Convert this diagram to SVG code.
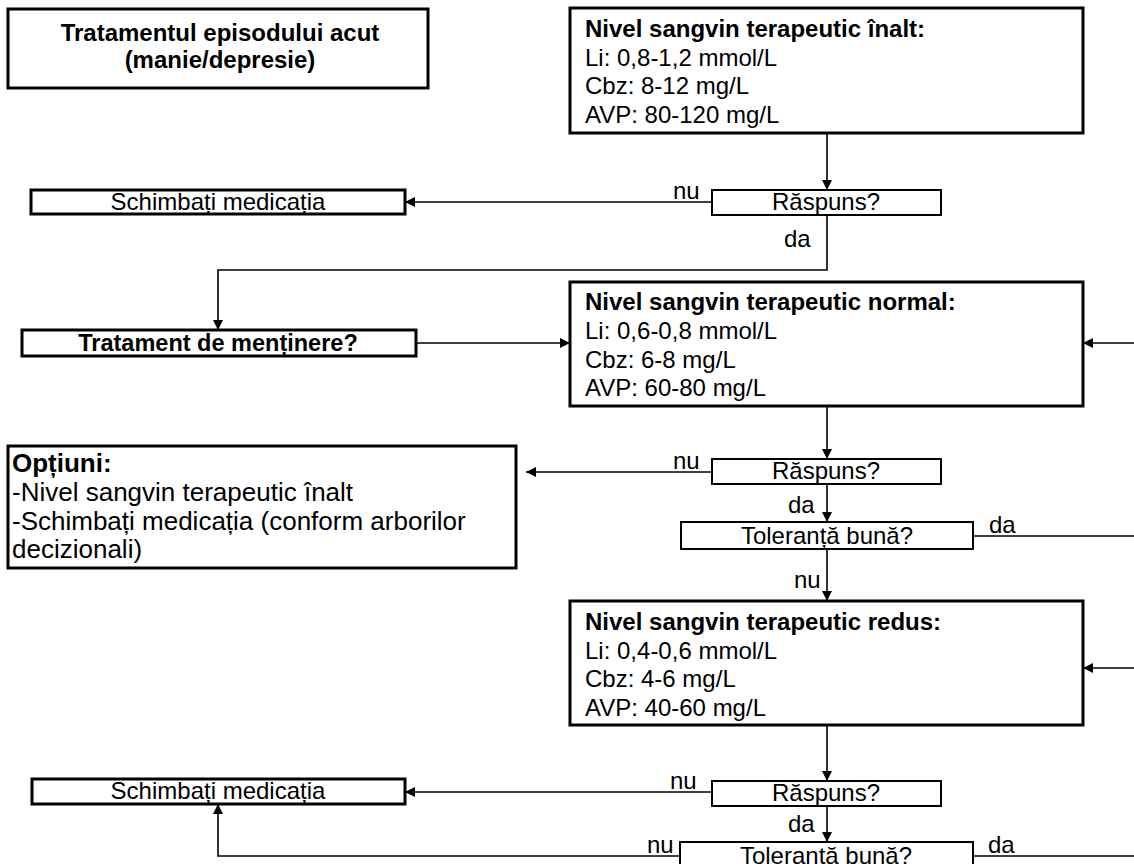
<svg xmlns="http://www.w3.org/2000/svg" width="1134" height="864" viewBox="0 0 1134 864">
<defs>
<marker id="ah" viewBox="0 0 10 10" refX="10" refY="5" markerWidth="10" markerHeight="10" markerUnits="userSpaceOnUse" orient="auto">
<path d="M0,0 L10,5 L0,10 z" fill="#000"/>
</marker>
<style>
.bx{fill:#fff;stroke:#000;stroke-width:3}
.sb{fill:#fff;stroke:#000;stroke-width:2}
.ln{fill:none;stroke:#000;stroke-width:1.6}
.ar{fill:none;stroke:#000;stroke-width:1.6;marker-end:url(#ah)}
text{font-family:"Liberation Sans",Arial,sans-serif;font-size:24px;fill:#000}
.b{font-weight:bold}
.c{text-anchor:middle}
.o{font-size:26px}
</style>
</defs>
<g id="connectors">
<path class="ar" d="M827,133 V190"/>
<path class="ar" d="M712,202 H405"/>
<path class="ar" d="M827,215 V270 H218 V330"/>
<path class="ar" d="M416,343 H570"/>
<path class="ar" d="M1134,343 H1083"/>
<path class="ar" d="M827,406 V459"/>
<path class="ar" d="M712,472 H526"/>
<path class="ar" d="M827,484 V522"/>
<path class="ln" d="M973,536 H1134"/>
<path class="ar" d="M827,549 V601"/>
<path class="ar" d="M1134,668 H1083"/>
<path class="ar" d="M827,725 V781"/>
<path class="ar" d="M712,792 H405"/>
<path class="ar" d="M827,806 V842"/>
<path class="ar" d="M680,856 H218 V804"/>
<path class="ln" d="M973,856 H1134"/>
<text x="673" y="199">nu</text>
<text x="784" y="247">da</text>
<text x="673" y="469">nu</text>
<text x="788" y="513">da</text>
<text x="989" y="533">da</text>
<text x="794" y="588">nu</text>
<text x="670" y="789">nu</text>
<text x="788" y="832">da</text>
<text x="647" y="853">nu</text>
<text x="988" y="853">da</text>
</g>
<g id="acute">
<rect class="bx" x="8" y="9" width="420" height="79"/>
<text class="b c" x="220" y="41">Tratamentul episodului acut</text>
<text class="b c" x="220" y="68">(manie/depresie)</text>
</g>
<g id="high">
<rect class="bx" x="570" y="8" width="513" height="125"/>
<text class="b" x="585" y="37">Nivel sangvin terapeutic înalt:</text>
<text x="585" y="65.5">Li: 0,8-1,2 mmol/L</text>
<text x="585" y="94">Cbz: 8-12 mg/L</text>
<text x="585" y="122.5">AVP: 80-120 mg/L</text>
</g>
<g id="resp1">
<rect class="sb" x="712" y="190" width="229" height="25"/>
<text class="c" x="826" y="210">Răspuns?</text>
</g>
<g id="change1">
<rect class="bx" x="31" y="190" width="374" height="24"/>
<text class="c" x="218" y="210">Schimbați medicația</text>
</g>
<g id="maint">
<rect class="bx" x="22" y="330" width="394" height="26"/>
<text class="b c" x="218" y="351" style="font-size:23.5px">Tratament de menținere?</text>
</g>
<g id="normal">
<rect class="bx" x="570" y="282" width="513" height="124"/>
<text class="b" x="585" y="310">Nivel sangvin terapeutic normal:</text>
<text x="585" y="339">Li: 0,6-0,8 mmol/L</text>
<text x="585" y="367.5">Cbz: 6-8 mg/L</text>
<text x="585" y="396">AVP: 60-80 mg/L</text>
</g>
<g id="resp2">
<rect class="sb" x="712" y="459" width="229" height="25"/>
<text class="c" x="826" y="479">Răspuns?</text>
</g>
<g id="options">
<rect class="bx" x="8" y="446" width="508" height="122"/>
<text class="b o" x="12" y="472">Opțiuni:</text>
<text class="o" x="12" y="501">-Nivel sangvin terapeutic înalt</text>
<text class="o" x="12" y="530">-Schimbați medicația (conform arborilor</text>
<text class="o" x="12" y="558">decizionali)</text>
</g>
<g id="tol1">
<rect class="sb" x="681" y="522" width="292" height="27"/>
<text class="c" x="827" y="544">Toleranță bună?</text>
</g>
<g id="reduced">
<rect class="bx" x="570" y="601" width="513" height="124"/>
<text class="b" x="585" y="630">Nivel sangvin terapeutic redus:</text>
<text x="585" y="658.5">Li: 0,4-0,6 mmol/L</text>
<text x="585" y="687">Cbz: 4-6 mg/L</text>
<text x="585" y="715.5">AVP: 40-60 mg/L</text>
</g>
<g id="resp3">
<rect class="sb" x="712" y="781" width="229" height="25"/>
<text class="c" x="826" y="801">Răspuns?</text>
</g>
<g id="change2">
<rect class="bx" x="32" y="779" width="373" height="25"/>
<text class="c" x="218" y="799">Schimbați medicația</text>
</g>
<g id="tol2">
<rect class="sb" x="680" y="842" width="293" height="27"/>
<text class="c" x="826" y="864">Toleranță bună?</text>
</g>
</svg>
